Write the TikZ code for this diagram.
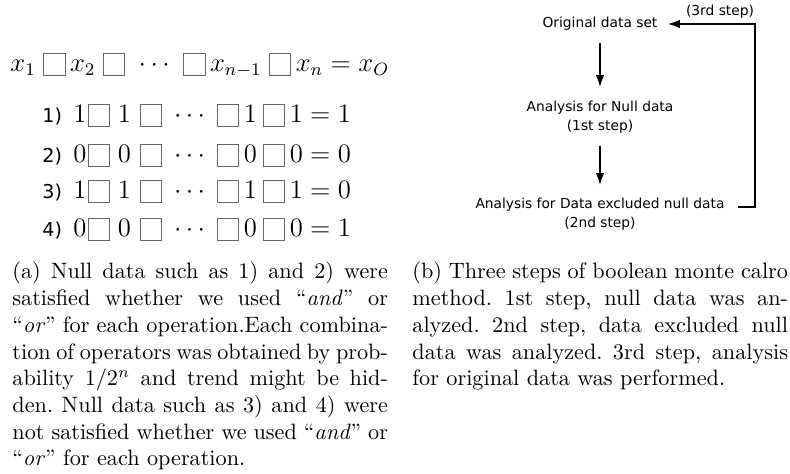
\documentclass[tikz,border=0pt]{standalone}
\usepackage{amssymb}
\usepackage{fontspec}
\newfontfamily\gothic{DejaVu Sans}
\usetikzlibrary{arrows.meta}
\newcommand\opbox{\mathord{\setlength\fboxsep{0pt}\setlength\fboxrule{0.45pt}\raisebox{-1.2pt}{\color{black!60}\framebox{\rule{0pt}{9.2pt}\hspace{9.2pt}}}}}
\begin{document}
\begin{tikzpicture}[x=0.45pt,y=-0.45pt,
  eq/.style={inner sep=0pt, anchor=base west, font=\large},
  lbl/.style={inner sep=0pt, anchor=base west, font=\gothic\fontsize{8.6}{10}\selectfont},
  flow/.style={inner sep=0pt, align=center, font=\gothic\fontsize{6.2}{8.8}\selectfont},
  arr/.style={line width=0.7pt, -{Latex[length=5.4pt,width=3.8pt]}},
  captext/.style={inner sep=0pt, anchor=base west}]
\useasboundingbox (0,0) rectangle (790,474);
% left panel
\node[eq] (top) at (10,72) {$x_1\mkern5mu\opbox\mkern3mu x_2\mkern5mu\opbox\mkern6mu\cdots\mkern6mu\opbox\mkern3mu x_{n-1}\mkern5mu\opbox\mkern3mu x_n=x_O$};
\node[lbl] (l1) at (42,123) {1)};
\node[lbl] (l2) at (42,163) {2)};
\node[lbl] (l3) at (42,199) {3)};
\node[lbl] (l4) at (42,237) {4)};
\node[eq] (r1) at (73,123) {$1\mkern1mu\opbox\mkern5mu 1\mkern6mu\opbox\mkern5mu\cdots\mkern5mu\opbox\mkern3mu 1\mkern4mu\opbox\mkern3mu 1=1$};
\node[eq] (r2) at (73,163) {$0\mkern1mu\opbox\mkern5mu 0\mkern6mu\opbox\mkern5mu\cdots\mkern5mu\opbox\mkern3mu 0\mkern4mu\opbox\mkern3mu 0=0$};
\node[eq] (r3) at (73,199) {$1\mkern1mu\opbox\mkern5mu 1\mkern6mu\opbox\mkern5mu\cdots\mkern5mu\opbox\mkern3mu 1\mkern4mu\opbox\mkern3mu 1=0$};
\node[eq] (r4) at (73,237) {$0\mkern1mu\opbox\mkern5mu 0\mkern6mu\opbox\mkern5mu\cdots\mkern5mu\opbox\mkern3mu 0\mkern4mu\opbox\mkern3mu 0=1$};
% right panel
\node[flow] (orig) at (600,24) {Original data set};
\node[flow] (null) at (600,117) {Analysis for Null data\\(1st step)};
\node[flow] (excl) at (600,214) {Analysis for Data excluded null data\\(2nd step)};
\node[flow] (third) at (720,12) {(3rd step)};
\coordinate (ls) at (738,207);
\coordinate (corner) at (755,24);
\draw[arr, shorten <=12pt*0.45, shorten >=13pt*0.45] (orig) -- (null.north);
\draw[arr, shorten <=12pt*0.45, shorten >=12pt*0.45] (null.south) -- (excl.north);
\draw[arr, shorten >=10pt*0.45] (ls) -| (corner) -- (orig.east);
% captions
\node[captext] (capa) at (12,279) {\parbox[t]{169pt}{\frenchspacing(a) Null data such as 1) and 2) were\linebreak
satisfied whether we used “\textit{and}” or\linebreak
“\textit{or}” for each operation.Each combina-\linebreak
tion of operators was obtained by prob-\linebreak
ability $1/2^n$ and trend might be hid-\linebreak
den. Null data such as 3) and 4) were\linebreak
not satisfied whether we used “\textit{and}” or\linebreak
“\textit{or}” for each operation.}};
\node[captext] (capb) at (412,279) {\parbox[t]{169pt}{\frenchspacing(b) Three steps of boolean monte calro\linebreak
method. 1st step, null data was an-\linebreak
alyzed. 2nd step, data excluded null\linebreak
data was analyzed. 3rd step, analysis\linebreak
for original data was performed.}};
\end{tikzpicture}
\end{document}
